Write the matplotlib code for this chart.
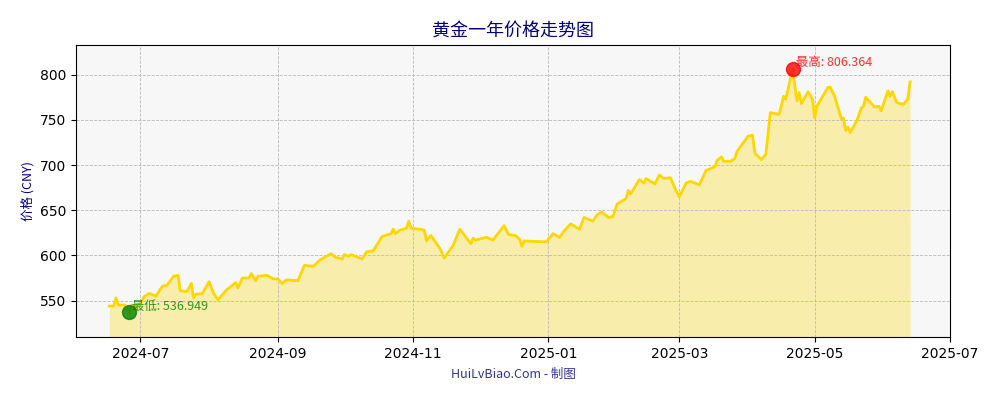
import matplotlib
matplotlib.use("Agg")
import matplotlib.pyplot as plt
import matplotlib.dates as mdates
import pandas as pd

plt.rcParams['font.family'] = ['DejaVu Sans', 'Noto Sans CJK SC']
cjk = ['Noto Sans CJK SC', 'DejaVu Sans']

# 日期与价格
fechas = [
    "2024-06-17", "2024-06-19", "2024-06-20", "2024-06-21", "2024-06-24", "2024-06-26",
    "2024-06-27", "2024-06-30", "2024-07-03", "2024-07-05", "2024-07-08", "2024-07-11",
    "2024-07-13", "2024-07-16", "2024-07-18", "2024-07-19", "2024-07-22", "2024-07-24",
    "2024-07-25", "2024-07-26", "2024-07-29", "2024-08-01", "2024-08-03", "2024-08-05",
    "2024-08-09", "2024-08-13", "2024-08-14", "2024-08-16", "2024-08-19", "2024-08-20",
    "2024-08-22", "2024-08-23", "2024-08-27", "2024-08-30", "2024-09-01", "2024-09-03",
    "2024-09-05", "2024-09-10", "2024-09-13", "2024-09-17", "2024-09-20", "2024-09-25",
    "2024-09-27", "2024-09-30", "2024-10-01", "2024-10-03", "2024-10-04", "2024-10-09",
    "2024-10-11", "2024-10-14", "2024-10-18", "2024-10-22", "2024-10-23", "2024-10-24",
    "2024-10-26", "2024-10-29", "2024-10-30", "2024-10-31", "2024-11-04", "2024-11-06",
    "2024-11-07", "2024-11-09", "2024-11-13", "2024-11-15", "2024-11-19", "2024-11-22",
    "2024-11-27", "2024-11-28", "2024-11-29", "2024-12-04", "2024-12-07", "2024-12-12",
    "2024-12-14", "2024-12-17", "2024-12-19", "2024-12-20", "2024-12-21", "2024-12-31",
    "2025-01-03", "2025-01-06", "2025-01-08", "2025-01-11", "2025-01-15", "2025-01-17",
    "2025-01-21", "2025-01-23", "2025-01-25", "2025-01-28", "2025-01-30", "2025-02-01",
    "2025-02-05", "2025-02-06", "2025-02-07", "2025-02-11", "2025-02-13", "2025-02-14",
    "2025-02-18", "2025-02-20", "2025-02-22", "2025-02-25", "2025-02-27", "2025-03-01",
    "2025-03-04", "2025-03-06", "2025-03-10", "2025-03-13", "2025-03-17", "2025-03-18",
    "2025-03-20", "2025-03-21", "2025-03-24", "2025-03-26", "2025-03-27", "2025-04-01",
    "2025-04-03", "2025-04-04", "2025-04-07", "2025-04-09", "2025-04-11", "2025-04-15",
    "2025-04-17", "2025-04-18", "2025-04-21", "2025-04-23", "2025-04-24", "2025-04-25",
    "2025-04-28", "2025-04-30", "2025-05-01", "2025-05-02", "2025-05-07", "2025-05-08",
    "2025-05-10", "2025-05-13", "2025-05-14", "2025-05-15", "2025-05-16", "2025-05-17",
    "2025-05-20", "2025-05-22", "2025-05-23", "2025-05-24", "2025-05-28", "2025-05-30",
    "2025-05-31", "2025-06-03", "2025-06-04", "2025-06-05", "2025-06-07", "2025-06-10",
    "2025-06-12", "2025-06-13",
]
precios = [
    544, 544, 553, 545, 545, 536.949,
    545, 544, 555, 558, 555, 566,
    567, 577, 578, 561, 560, 569,
    553, 557, 558, 571, 558, 551,
    562, 570, 564, 575, 575, 580,
    572, 577, 578, 574, 574, 569,
    573, 572, 589, 588, 595, 602,
    598, 596, 601, 599, 601, 596,
    604, 605, 621, 624, 629, 624,
    628, 630, 638, 630, 629, 628,
    616, 622, 608, 597, 611, 629,
    613, 619, 617, 620, 617, 633,
    623, 622, 618, 610, 616, 615,
    624, 620, 627, 635, 629, 642,
    638, 645, 648, 642, 643, 657,
    663, 672, 668, 684, 680, 685,
    679, 689, 685, 686, 674, 665,
    680, 682, 678, 694, 698, 705,
    709, 704, 704, 707, 715, 732,
    733, 713, 706, 712, 758, 756,
    776, 773, 806.364, 771, 780, 768,
    781, 773, 752, 765, 786, 786,
    776, 751, 752, 738, 742, 736,
    749, 763, 765, 775, 764, 765,
    760, 782, 776, 781, 769, 767,
    773, 792,
]

fechas = pd.to_datetime(fechas)
i_max = precios.index(max(precios))
i_min = precios.index(min(precios))

fig, ax = plt.subplots(figsize=(10, 4), dpi=100)
fig.subplots_adjust(left=0.076, right=0.95, top=0.888, bottom=0.158)
ax.set_facecolor("#f7f7f7")

ax.plot(fechas, precios, color="#FFD700", linewidth=2)
ax.fill_between(fechas, precios, 510, color="#FFD700", alpha=0.3, linewidth=0)

ax.scatter([fechas[i_max]], [precios[i_max]], s=100, color="red", alpha=0.8, zorder=5)
ax.scatter([fechas[i_min]], [precios[i_min]], s=100, color="green", alpha=0.8, zorder=5)
ax.text(fechas[i_max], precios[i_max], f" 最高: {precios[i_max]}", color="red",
        fontsize=9, va="bottom", alpha=0.8, family=cjk)
ax.text(fechas[i_min], precios[i_min], f" 最低: {precios[i_min]}", color="green",
        fontsize=9, va="bottom", alpha=0.8, family=cjk)

ax.set_ylim(510, 833)
ax.set_xlim(pd.Timestamp("2024-06-02"), pd.Timestamp("2025-07-01"))
ax.xaxis.set_major_locator(mdates.MonthLocator(bymonth=[1, 3, 5, 7, 9, 11]))
ax.xaxis.set_major_formatter(mdates.DateFormatter("%Y-%m"))
ax.grid(True, linestyle="--", linewidth=0.6, color="#bbbbbb")

ax.set_title("黄金一年价格走势图", color="navy", fontsize=13, family=cjk)
ax.set_ylabel("价格 (CNY)", color="navy", fontsize=9, family=cjk)
fig.text(0.513, 0.055, "HuiLvBiao.Com - 制图", color="navy", fontsize=9, ha="center",
         alpha=0.8, family=cjk)

plt.savefig("out.png")
plt.close()
